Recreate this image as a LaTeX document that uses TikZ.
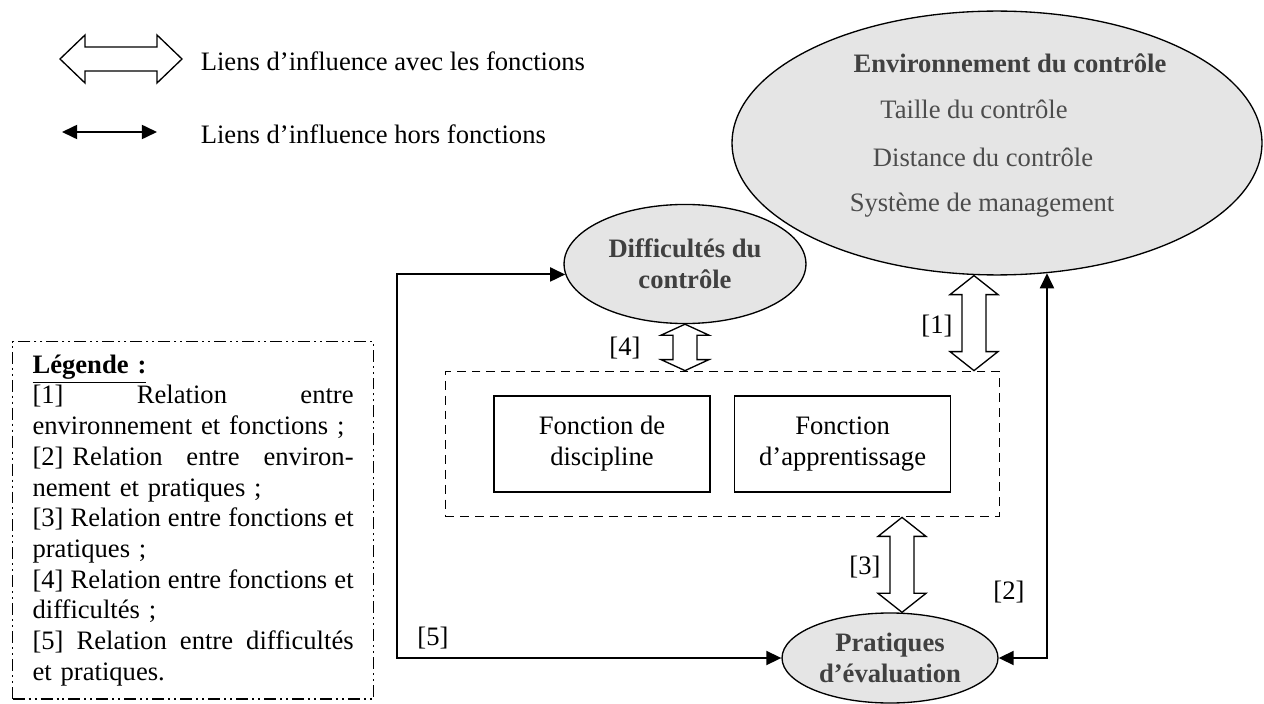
\documentclass[tikz,border=0pt]{standalone}
\usepackage{fontspec}
\setmainfont{Liberation Serif}
\usetikzlibrary{shapes.geometric,positioning,fit,calc,arrows.meta}
\newcommand{\jline}[1]{\leavevmode\hbox to 144.8pt{#1}}

\begin{document}
\begin{tikzpicture}
[x=0.451pt,y=-0.451pt,%
  every node/.style={font=\fontsize{12}{14}\selectfont},%
  cloud/.style={ellipse,draw,line width=0.6pt,fill=black!10,inner sep=0pt,text=black!75,font=\fontsize{12}{14}\selectfont\bfseries,align=center},%
  func/.style={rectangle,draw,line width=0.7pt,minimum width=97.4pt,minimum height=43.3pt,align=center},%
  legend/.style={draw,line width=0.55pt,dash pattern=on 5.4pt off 1.8pt on 0.9pt off 1.8pt on 0.9pt off 1.8pt,text width=144.8pt,inner xsep=9pt,inner ysep=5.9pt,align=left,font=\fontsize{12}{13.85}\selectfont},%
  link/.style={line width=0.9pt,>={Triangle[length=6.8pt,width=6.3pt]},<->},%
  vlink/.style={draw,line width=0.6pt,fill=white,to path={-- ++(24,#1) -- ++(-12,0) -- ($(\tikztotarget)+(12,-#1)$) -- ++(12,0) -- (\tikztotarget) -- ++(-24,-#1) -- ++(12,0) -- ($(\tikztostart)+(-12,#1)$) -- ++(-12,0) -- cycle}},%
  vlink/.default=19,%
  hlink/.style={draw,line width=0.6pt,fill=white,to path={-- ++(25,-24) -- ++(0,12) -- ($(\tikztotarget)+(-25,-12)$) -- ++(0,-12) -- (\tikztotarget) -- ++(-25,24) -- ++(0,-12) -- ($(\tikztostart)+(25,12)$) -- ++(0,12) -- cycle}}]
\useasboundingbox (0,0) rectangle (1264,704);

% key of the arrows
\coordinate (s1a) at (60,59);
\coordinate (s1b) at (182,59);
\draw[hlink] (s1a) to (s1b);
\node[anchor=west] (t1) at (193,61) {Liens d’influence avec les fonctions};
\coordinate (s2a) at (62,132);
\coordinate (s2b) at (157,132);
\draw[link] (s2a) -- (s2b);
\node[anchor=west] (t2) at (193,134) {Liens d’influence hors fonctions};

% environment
\node[cloud,minimum width=239pt,minimum height=119pt] (env) at (997,143) {};
\node[font=\fontsize{12}{14}\selectfont\bfseries,text=black!75] (envt) at (1010,63) {Environnement du contrôle};
\node[text=black!70] (env1) at (974,109) {Taille du contrôle};
\node[text=black!70] (env2) at (983,157) {Distance du contrôle};
\node[text=black!70] (env3) at (982,205) {Système de management};

\node[cloud,minimum width=109.1pt,minimum height=53.7pt] (diff) at (685,264) {Difficultés du\\contrôle};
\node[cloud,minimum width=97.4pt,minimum height=40.6pt] (prat) at (890,658) {Pratiques\\d’évaluation};

% functions
\node[func] (disc) at (602,444) {Fonction de\\discipline};
\node[func,right=10.4pt of disc] (appr) {Fonction\\d’apprentissage};
\node[draw,line width=0.6pt,dash pattern=on 4pt off 2.7pt,fit=(disc)(appr),inner xsep=21.6pt,inner ysep=10.8pt] (funcs) {};

% links with the functions
\coordinate (a1) at ($(env.south)+(-23,0)$);
\coordinate (b1) at (a1 |- funcs.north);
\draw[vlink] (a1) to (b1);
\coordinate (b4) at (diff.south |- funcs.north);
\draw[vlink=11] (diff.south) to (b4);
\coordinate (b3) at ($(prat.north)+(12,0)$);
\coordinate (a3) at (b3 |- funcs.south);
\draw[vlink] (a3) to (b3);

% links outside the functions
\coordinate (lx) at (397,0);
\draw[link] (diff.185) -| (lx |- prat.west) -- (prat.west);
\draw[link] (prat.east) -| (env.-69);

\node (n1) at (937,326) {[1]};
\node (n2) at (1009,592) {[2]};
\node (n3) at (865,567) {[3]};
\node (n4) at (625,348) {[4]};
\node (n5) at (433,638) {[5]};

% legend
\node[legend,anchor=north west] (leg) at (12,341) {\underline{\textbf{Légende :}}\\
\jline{[1]\hfill Relation\hfill entre}\\
environnement et fonctions ;\\
\jline{[2] Relation\hfill entre\hfill environ-}\\
nement et pratiques ;\\
\jline{[3]\hfill Relation\hfill entre\hfill fonctions\hfill et}\\
pratiques ;\\
\jline{[4]\hfill Relation\hfill entre\hfill fonctions\hfill et}\\
difficultés ;\\
\jline{[5]\hfill Relation\hfill entre\hfill difficultés}\\
et pratiques.};
\end{tikzpicture}
\end{document}
